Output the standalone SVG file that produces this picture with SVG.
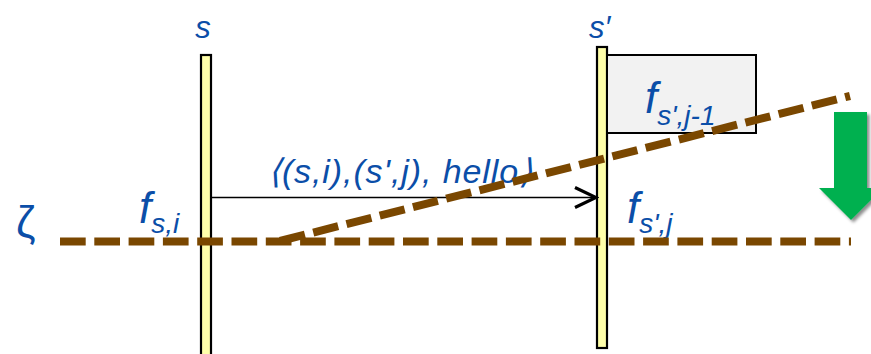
<svg xmlns="http://www.w3.org/2000/svg" width="871" height="354" viewBox="0 0 871 354">
<style>
.life{fill:#FFFFAA;stroke:#000;stroke-width:2.2}
.lbl{font-family:"Liberation Sans",Arial,sans-serif;font-style:italic;fill:#0B4EA8}
.cut{fill:none;stroke:#7A4700;stroke-width:8;stroke-dasharray:25.7 8.6}
.msg{fill:none;stroke:#000;stroke-width:1.5}
</style>
<defs>
<marker id="open" markerWidth="26" markerHeight="24" refX="23" refY="12" orient="auto" markerUnits="userSpaceOnUse">
<path d="M2,2 L23,12 L2,22" fill="none" stroke="#000" stroke-width="3.2" stroke-linejoin="miter"/>
</marker>
<filter id="sh" x="-20%" y="-20%" width="150%" height="150%">
<feDropShadow dx="2.5" dy="2.5" stdDeviation="1.5" flood-color="#000" flood-opacity="0.45"/>
</filter>
</defs>
<rect width="871" height="354" fill="#fff"/>
<g id="node-s">
<rect class="life" x="201" y="55" width="10" height="305"/>
<text class="lbl" x="203" y="38" font-size="31" text-anchor="middle">s</text>
</g>
<g id="node-s-prime">
<rect class="life" x="597" y="47" width="10" height="301"/>
<text class="lbl" x="589" y="38" font-size="31">s′</text>
</g>
<g id="node-box">
<rect x="607" y="55" width="149" height="78" fill="#F2F2F2" stroke="#000" stroke-width="2"/>
<text class="lbl" x="645" y="113" font-size="44">f<tspan font-size="28" dy="12">s',j-1</tspan></text>
</g>
<g id="connectors">
<line class="msg" x1="211" y1="197.5" x2="596" y2="197.5" marker-end="url(#open)"/>
</g>
<text class="lbl" x="268" y="183" font-size="34" textLength="264" lengthAdjust="spacing">⟨(s,i),(s',j), hello⟩</text>
<g id="label-fsi">
<text class="lbl" x="139" y="223" font-size="44">f<tspan font-size="28" dy="10">s,i</tspan></text>
</g>
<g id="label-fsj">
<text class="lbl" x="627" y="223" font-size="44">f<tspan font-size="28" dy="10">s',j</tspan></text>
</g>
<g id="label-zeta">
<text x="16" y="237" font-size="44" fill="#0B4EA8" font-family="Liberation Sans,Arial,sans-serif">ζ</text>
</g>
<g id="cuts">
<line class="cut" x1="60" y1="241.5" x2="851" y2="241.5"/>
<line class="cut" x1="280" y1="241" x2="850" y2="96"/>
</g>
<g id="green-arrow">
<polygon points="834,112 867,112 867,188 883,188 851,220 819,188 834,188" fill="#00B050" filter="url(#sh)"/>
</g>
</svg>
